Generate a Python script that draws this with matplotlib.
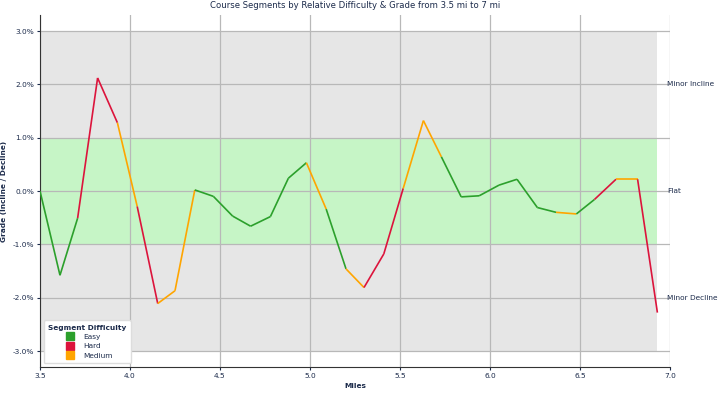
import matplotlib
matplotlib.use("Agg")
import matplotlib.pyplot as plt
from matplotlib.lines import Line2D

miles = [3.50, 3.611, 3.709, 3.82, 3.93, 4.04, 4.154, 4.25, 4.36, 4.463, 4.57,
         4.67, 4.78, 4.88, 4.98, 5.09, 5.20, 5.30, 5.41, 5.518, 5.63, 5.73,
         5.84, 5.94, 6.05, 6.15, 6.263, 6.367, 6.48, 6.58, 6.70, 6.82, 6.93]
grade = [0.00, -1.58, -0.51, 2.12, 1.28, -0.29, -2.11, -1.87, 0.02, -0.10, -0.47,
         -0.66, -0.48, 0.24, 0.53, -0.34, -1.46, -1.81, -1.18, 0.05, 1.32, 0.64,
         -0.11, -0.09, 0.11, 0.22, -0.31, -0.40, -0.43, -0.16, 0.22, 0.22, -2.28]
# difficulty of each segment (between consecutive points)
difficulty = ["Easy", "Easy", "Hard", "Hard", "Medium", "Hard", "Medium", "Medium",
              "Easy", "Easy", "Easy", "Easy", "Easy", "Easy", "Medium", "Easy",
              "Medium", "Hard", "Hard", "Medium", "Medium", "Easy", "Easy", "Easy",
              "Easy", "Easy", "Easy", "Medium", "Easy", "Hard", "Medium", "Hard"]
categories = ["Easy", "Hard", "Medium"]
cat_colors = {"Easy": "#2ca02c", "Hard": "#dc143c", "Medium": "#ffa500"}
right_ticks = [2, 0, -2]
right_labels = ["Minor Incline", "Flat", "Minor Decline"]
left_ticks = [-3, -2, -1, 0, 1, 2, 3]
x_ticks = [3.5, 4.0, 4.5, 5.0, 5.5, 6.0, 6.5, 7.0]

TXT = "#1c2b4b"
FS = 5.3
plt.rcParams["font.family"] = ["DejaVu Sans"]
plt.rcParams["axes.unicode_minus"] = False

fig = plt.figure(figsize=(7.2, 3.94), dpi=100)
ax = fig.add_axes([40/720, 1-367/394, 630/720, (367-15)/394])

ax.fill_between([miles[0], miles[-1]], -3, 3, color="#e6e6e6", lw=0, zorder=0.2)
ax.fill_between([miles[0], miles[-1]], -1, 1, color="#c6f5c6", lw=0, zorder=0.3)

for i, d in enumerate(difficulty):
    ax.plot(miles[i:i+2], grade[i:i+2], color=cat_colors[d], lw=1.2,
            solid_capstyle="butt", zorder=3)

ax.set_xlim(3.5, 7.0)
ax.set_ylim(-3.3, 3.3)
ax.set_xticks(x_ticks)
ax.set_xticklabels([f"{v:.1f}" for v in x_ticks])
ax.set_yticks(left_ticks)
ax.set_yticklabels([f"{v:.1f}%" for v in left_ticks])
ax.grid(True, color="#b8b8b8", lw=0.9, zorder=0.5)
ax.set_axisbelow(True)
for s in ["top", "right"]:
    ax.spines[s].set_visible(False)
for s in ["left", "bottom"]:
    ax.spines[s].set_color("#333333")
ax.tick_params(labelsize=FS, colors=TXT, length=2, pad=2)
ax.set_xlabel("Miles", fontsize=FS, fontweight="bold", color=TXT, labelpad=3)
ax.set_ylabel("Grade (Incline / Decline)", fontsize=FS, fontweight="bold",
              color=TXT, labelpad=4)
ax.set_title("Course Segments by Relative Difficulty & Grade from 3.5 mi to 7 mi",
             fontsize=6.1, color=TXT, pad=5)

for val, lab in zip(right_ticks, right_labels):
    ax.annotate(lab, xy=(1.0, val), xycoords=("axes fraction", "data"),
                xytext=(-3, 0), textcoords="offset pixels", ha="left", va="center",
                fontsize=FS, color=TXT, annotation_clip=False)

handles = [Line2D([], [], marker="s", ls="", markersize=6, color=cat_colors[c],
                  markeredgecolor=cat_colors[c]) for c in categories]
leg = ax.legend(handles, categories, title="Segment Difficulty", loc="lower left",
                fontsize=FS, title_fontproperties={"weight": "bold", "size": FS},
                frameon=True, framealpha=1, edgecolor="#dddddd", borderpad=0.6,
                handletextpad=0.8, labelspacing=0.45, bbox_to_anchor=(0.0, 0.0))
for t in leg.get_texts():
    t.set_color(TXT)
leg.get_title().set_color(TXT)
leg.set_zorder(5)

fig.savefig("out.png", dpi=100)
